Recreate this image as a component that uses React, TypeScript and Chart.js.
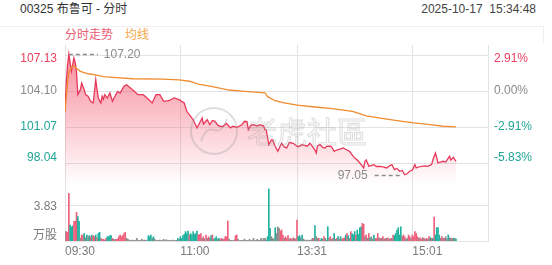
import React, { useEffect, useRef } from "react";
import { Chart, registerables } from "chart.js";

Chart.register(...registerables);

const FONT = '"Liberation Sans", Arial, "Noto Sans CJK SC", sans-serif';

const titleText = "00325 布鲁可 - 分时";
const timeStamp = "2025-10-17  15:34:48";
const legendNames = ["分时走势", "均线"];
const watermarkText = "老虎社區";

const prevClose = 104.1;
const priceTicks = [107.13, 104.1, 101.07, 98.04];
const pctLabels = ["2.91%", "0.00%", "-2.91%", "-5.83%"];
const volTicks = [3.83];
const volUnit = "万股";
const timeTicks = [0, 90, 181, 271, 330];
const timeLabels = ["09:30", "11:00", "13:31", "15:01", ""];

// minute index since 09:30 (lunch break collapsed), price
const priceMinutes = [
  0, 1, 2, 3, 5, 7, 8, 9, 10, 12,
  13, 15, 16, 18, 20, 22, 24, 25, 26, 28,
  29, 30, 31, 33, 35, 37, 39, 41, 43, 46,
  48, 51, 54, 57, 61, 64, 68, 71, 74, 77,
  81, 85, 89, 93, 95, 98, 100, 103, 105, 107,
  108, 111, 113, 115, 117, 119, 121, 123, 126, 129,
  131, 134, 138, 140, 142, 143, 145, 147, 150, 152,
  155, 156, 157, 159, 161, 162, 164, 166, 169, 171,
  173, 175, 177, 178, 181, 182, 185, 186, 189, 191,
  192, 195, 196, 197, 199, 201, 203, 204, 207, 208,
  210, 212, 215, 217, 220, 222, 225, 226, 228, 230,
  233, 234, 235, 237, 238, 241, 243, 246, 248, 251,
  253, 255, 256, 257, 259, 261, 263, 265, 267, 269,
  271, 273, 274, 276, 278, 281, 283, 286, 287, 289,
  290, 291, 293, 295, 297, 300, 301, 303, 305,
];
const prices = [
  102.37, 104.8, 106.3, 107.2, 105.76, 106.88, 106.46, 105.62, 103.79, 104.21,
  104.77, 104.2, 103.79, 103.65, 103.23, 103.09, 105.05, 104.21, 103.51, 103.09,
  103.65, 103.4, 103.79, 103.5, 103.93, 103.23, 103.65, 104.07, 103.93, 104.5,
  104.63, 104.35, 104.07, 103.79, 103.79, 103.51, 103.09, 103.79, 103.79, 103.23,
  103.28, 103.51, 103.37, 103.09, 102.39, 101.97, 101.68, 100.99, 101.4, 101.83,
  101.32, 101.68, 101.26, 101.62, 101.55, 101.24, 101.13, 101.1, 101.36, 100.99,
  101.13, 101.04, 101.26, 101.55, 101.52, 100.84, 101.2, 101.26, 101.15, 101.26,
  101.15, 100.84, 100.82, 99.58, 99.98, 99.98, 99.45, 99.02, 99.7, 99.39,
  99.3, 99.77, 99.72, 99.7, 99.45, 99.41, 99.58, 99.55, 99.45, 99.7,
  99.58, 99.13, 98.88, 99.47, 99.58, 99.34, 99.3, 99.43, 99.45, 99.39,
  99.02, 99.13, 99.22, 99.3, 99.13, 99.02, 98.57, 98.46, 98.29, 98.04,
  97.62, 98.18, 98.29, 97.76, 97.79, 97.9, 97.74, 97.76, 97.7, 97.62,
  97.79, 97.9, 97.7, 97.48, 97.58, 97.34, 97.41, 97.05, 97.15, 97.34,
  97.45, 97.9, 97.62, 97.7, 97.76, 97.79, 97.76, 97.9, 98.29, 98.88,
  98.46, 98.04, 98.12, 98.18, 98.12, 98.6, 98.29, 98.52, 98.18,
];

const avgMinutes = [
  0, 1, 2, 3, 5, 7, 9, 12, 18, 24, 30, 40, 53, 76, 89, 97, 104, 115,
  128, 140, 156, 158, 164, 170, 181, 195, 207, 220, 225, 235, 246, 259,
  272, 285, 295, 305,
];
const avgPrices = [
  102.37, 103.6, 104.8, 105.7, 106.1, 106.2, 106.0, 105.75, 105.55, 105.45,
  105.3, 105.22, 105.13, 105.1, 105.03, 104.92, 104.68, 104.46, 104.18, 104.07,
  103.95, 103.62, 103.28, 103.12, 102.9, 102.75, 102.64, 102.45, 102.36, 102.0,
  101.81, 101.6, 101.41, 101.26, 101.13, 101.07,
];

// volume per minute (万股)
const volumes = [
  1.0, 1.0, 0.9, 5.07, 1.7, 1.5, 1.6, 2.1, 2.1, 3.05,
  2.6, 2.1, 0.3, 0.64, 0.64, 0.8, 0.35, 0.64, 0.46, 0.57,
  0.46, 0.64, 0.57, 0.46, 0.64, 0.35, 0.8, 0.92, 0.28, 0.18,
  0.18, 0.1, 0.28, 0.46, 0.46, 0.57, 0.57, 0.28, 0.18, 0.18,
  0.18, 0.2, 0.46, 0.64, 0.46, 0.57, 0.8, 0.92, 0.28, 0.2,
  0.1, 0.05, 0.1, 0.05, 0.08, 0.05, 0.28, 0.05, 0.08, 0.05,
  0.2, 0.05, 0.1, 0.05, 0.1, 0.57, 0.46, 0.64, 0.28, 0.46,
  0.2, 0.05, 0.08, 0.05, 0.1, 0.05, 0.05, 0.18, 0.05, 0.14,
  0.05, 0.08, 0.05, 0.05, 0.1, 0.05, 0.05, 0.08, 0.28, 0.18,
  0.46, 0.28, 0.57, 0.7, 1.0, 0.8, 1.06, 0.64, 0.8, 0.64,
  1.0, 0.7, 0.8, 1.06, 0.64, 0.7, 0.8, 0.28, 0.46, 0.2,
  0.64, 0.28, 0.46, 0.28, 0.57, 0.64, 0.2, 0.28, 0.46, 0.2,
  0.28, 0.18, 0.28, 0.2, 0.2, 0.46, 0.46, 2.13, 0.2, 0.05,
  0.08, 0.05, 0.1, 0.57, 0.64, 0.18, 0.05, 0.05, 0.08, 0.05,
  0.2, 0.05, 0.08, 0.05, 0.18, 0.05, 0.05, 0.28, 0.05, 0.08,
  0.18, 0.05, 0.08, 0.28, 0.1, 0.28, 0.28, 0.1, 0.46, 5.53,
  1.35, 0.46, 0.28, 0.2, 1.42, 0.8, 1.5, 1.35, 1.06, 1.17,
  0.64, 0.28, 0.46, 0.28, 0.57, 0.2, 0.28, 0.18, 0.35, 0.28,
  0.2, 2.23, 0.46, 0.57, 0.35, 0.64, 0.2, 0.1, 0.05, 0.1,
  0.05, 0.08, 0.1, 0.28, 0.28, 1.63, 0.46, 0.28, 0.28, 0.1,
  0.28, 0.18, 0.46, 0.28, 0.1, 1.52, 0.28, 0.46, 0.18, 0.28,
  0.8, 0.2, 0.28, 0.46, 0.2, 0.46, 0.2, 0.28, 0.35, 0.64,
  0.8, 0.57, 0.28, 1.0, 0.8, 0.64, 1.0, 0.64, 1.17, 0.7,
  1.42, 1.52, 1.88, 1.77, 0.46, 0.64, 0.28, 0.8, 0.35, 0.46,
  0.2, 0.64, 0.28, 0.28, 0.8, 0.35, 0.28, 0.28, 0.46, 0.2,
  0.28, 0.28, 0.35, 0.2, 0.28, 0.28, 0.64, 0.57, 0.8, 1.17,
  1.42, 0.64, 1.52, 0.46, 0.64, 0.46, 0.2, 0.28, 0.64, 0.46,
  0.28, 0.64, 0.46, 1.0, 0.8, 0.46, 0.28, 0.35, 0.2, 0.35,
  0.28, 0.18, 0.28, 0.2, 0.46, 0.35, 0.28, 0.28, 2.55, 0.64,
  1.42, 1.42, 0.64, 0.28, 0.46, 0.28, 0.28, 0.46, 0.2, 0.64,
  0.35, 0.28, 0.28, 0.28, 0.28, 0.2,
];
// u = up minute, d = down minute, f = flat minute
const volDirs = [
  "duuuddduuu", "ddfuudfdfd", "uduududdfu", "ufudddduff", "uuuuuuuuff",
  "ffffffffff", "fffffdddfd", "ffffffffff", "ffffffffdf", "dddddddudd",
  "dddduuufuf", "ufufdufddf", "dfufuuuuff", "fffuufffff", "ffffffffff",
  "ffffffffdd", "dfffdfffuu", "ufuuufufuf", "uuddfdffff", "ffffudffuf",
  "dfuffdfufu", "dfududfuud", "udfudddudd", "dduufufudf", "fdfuufufuf",
  "ufufufuddd", "dddfuuffuu", "fuuuuufuuf", "ufufududud", "dddfufuffd",
  "ffudfd",
].join("");

const priceAxisMin = 91.47;
const priceAxisMax = 107.97;
const volAxisMax = 20.85;

const C_RED = "#e8405e";
const C_LINE = "#e8385a";
const C_TEAL = "#1fa596";
const C_GRAYTXT = "#8a8a8a";
const C_ORANGE = "#f08c30";
const C_GRID = "#e3e3e3";
const BAR_COLORS: Record<string, string> = { u: "#f0607d", d: "#1fb3a0", f: "#8c8c8c" };

function colorForPrice(v: number) {
  if (Math.abs(v - prevClose) < 0.005) return C_GRAYTXT;
  return v > prevClose ? C_RED : C_TEAL;
}

const overlayPlugin = {
  id: "overlay",
  beforeDatasetsDraw(chart: any) {
    const { ctx, chartArea: a, scales } = chart;
    const xs = scales.x, ys = scales.y, yv = scales.yv;
    ctx.save();
    ctx.strokeStyle = C_GRID;
    ctx.lineWidth = 1;
    ctx.beginPath();
    for (const v of priceTicks) {
      const py = Math.round(ys.getPixelForValue(v)) + 0.5;
      ctx.moveTo(a.left, py);
      ctx.lineTo(a.right + 1, py);
    }
    for (const v of volTicks) {
      const py = Math.round(yv.getPixelForValue(v)) + 0.5;
      ctx.moveTo(a.left, py);
      ctx.lineTo(a.right + 1, py);
    }
    const by = Math.round(yv.getPixelForValue(0)) + 0.5;
    ctx.moveTo(a.left, by);
    ctx.lineTo(a.right + 1, by);
    for (const t of timeTicks) {
      const px = Math.round(xs.getPixelForValue(t)) + 0.5;
      ctx.moveTo(px, a.top);
      ctx.lineTo(px, a.bottom + 1);
    }
    ctx.stroke();
    ctx.restore();
  },
  afterDatasetsDraw(chart: any) {
    const { ctx, chartArea: a, scales } = chart;
    const xs = scales.x, ys = scales.y, yv = scales.yv;
    ctx.save();

    // watermark
    ctx.strokeStyle = "rgba(150,150,150,0.3)";
    ctx.lineWidth = 2;
    ctx.beginPath();
    ctx.arc(a.left + 149, a.top + 86, 23, 0, Math.PI * 2);
    ctx.stroke();
    ctx.beginPath();
    ctx.moveTo(a.left + 136, a.top + 96);
    ctx.bezierCurveTo(a.left + 146, a.top + 70, a.left + 152, a.top + 100, a.left + 162, a.top + 74);
    ctx.stroke();
    ctx.font = `30px "Noto Sans CJK TC", sans-serif`;
    ctx.textAlign = "left";
    ctx.textBaseline = "middle";
    ctx.lineWidth = 1.1;
    ctx.strokeText(watermarkText, a.left + 182, a.top + 87);

    ctx.font = `12px ${FONT}`;
    // left/right price labels
    ctx.textBaseline = "middle";
    priceTicks.forEach((v, i) => {
      const py = ys.getPixelForValue(v) + (i === 0 ? 4 : i === priceTicks.length - 1 ? -5 : 0);
      ctx.fillStyle = colorForPrice(v);
      ctx.textAlign = "right";
      ctx.fillText(v.toFixed(2), a.left - 8, py);
      ctx.textAlign = "left";
      ctx.fillText(pctLabels[i], a.right + 6, py);
    });
    // volume labels
    ctx.fillStyle = "#7a7a7a";
    ctx.textAlign = "right";
    volTicks.forEach((v) => {
      ctx.fillText(v.toFixed(2), a.left - 8, yv.getPixelForValue(v) + 2);
    });
    ctx.fillText(volUnit, a.left - 8, yv.getPixelForValue(0) - 5);
    // time labels
    ctx.textAlign = "left";
    timeTicks.forEach((t, i) => {
      if (timeLabels[i]) ctx.fillText(timeLabels[i], xs.getPixelForValue(t), a.bottom + 11);
    });

    // high / low marks
    let hi = 0, lo = 0;
    prices.forEach((p, i) => {
      if (p > prices[hi]) hi = i;
      if (p < prices[lo]) lo = i;
    });
    ctx.strokeStyle = "#8c8c8c";
    ctx.lineWidth = 1.5;
    ctx.setLineDash([4, 3]);
    const hx = xs.getPixelForValue(priceMinutes[hi]);
    const hy = Math.round(ys.getPixelForValue(prices[hi])) + 0.5;
    ctx.beginPath();
    ctx.moveTo(hx, hy);
    ctx.lineTo(hx + 29, hy);
    ctx.stroke();
    const lx = xs.getPixelForValue(priceMinutes[lo]);
    const ly = Math.round(ys.getPixelForValue(prices[lo])) + 0.5;
    ctx.beginPath();
    ctx.moveTo(lx - 30, ly);
    ctx.lineTo(lx - 3, ly);
    ctx.stroke();
    ctx.setLineDash([]);
    ctx.fillStyle = C_GRAYTXT;
    ctx.textAlign = "left";
    ctx.fillText(prices[hi].toFixed(2), hx + 35, hy);
    ctx.textAlign = "right";
    ctx.fillText(prices[lo].toFixed(2), lx - 37, ly);
    ctx.restore();
  },
};

export default function App() {
  const ref = useRef<HTMLCanvasElement>(null);

  useEffect(() => {
    const canvas = ref.current;
    if (!canvas) return;
    const chart = new Chart(canvas, {
      type: "line",
      data: {
        datasets: [
          {
            type: "line",
            label: legendNames[1],
            data: avgMinutes.map((m, i) => ({ x: m, y: avgPrices[i] })),
            yAxisID: "y",
            borderColor: C_ORANGE,
            borderWidth: 1.3,
            pointRadius: 0,
            fill: false,
            tension: 0,
            order: 0,
          },
          {
            type: "line",
            label: legendNames[0],
            data: priceMinutes.map((m, i) => ({ x: m, y: prices[i] })),
            yAxisID: "y",
            borderColor: C_LINE,
            borderWidth: 1.3,
            pointRadius: 0,
            tension: 0,
            fill: "start",
            backgroundColor: (c: any) => {
              const ch = c.chart;
              const a = ch.chartArea;
              if (!a) return "rgba(0,0,0,0)";
              const g = ch.ctx.createLinearGradient(0, a.top + 8, 0, a.top + 140);
              g.addColorStop(0, "rgba(242,72,96,0.62)");
              g.addColorStop(1, "rgba(242,72,96,0)");
              return g;
            },
            order: 1,
          },
          {
            type: "bar",
            label: "vol",
            data: volumes.map((v, i) => ({ x: i, y: v })),
            yAxisID: "yv",
            backgroundColor: volumes.map((_, i) => BAR_COLORS[volDirs[i]] || BAR_COLORS.f),
            barThickness: 1,
            grouped: false,
            order: 2,
          } as any,
        ],
      },
      options: {
        responsive: false,
        devicePixelRatio: 1,
        animation: false,
        events: [],
        layout: { padding: { left: 65, right: 64, top: 45, bottom: 24 } },
        plugins: { legend: { display: false }, tooltip: { enabled: false } },
        scales: {
          x: { type: "linear", display: false, offset: false, grid: { offset: false }, min: 0, max: 330 },
          y: { type: "linear", display: false, min: priceAxisMin, max: priceAxisMax },
          yv: { type: "linear", display: false, min: 0, max: volAxisMax },
        },
      } as any,
      plugins: [overlayPlugin],
    });
    return () => chart.destroy();
  }, []);

  return (
    <div
      style={{
        position: "fixed",
        left: 0,
        top: 0,
        width: 552,
        height: 265,
        background: "#fff",
        fontFamily: FONT,
        overflow: "hidden",
      }}
    >
      <div style={{ position: "absolute", left: 20, top: 2, fontSize: 12, lineHeight: "14px", color: "#333", whiteSpace: "pre" }}>
        {titleText}
      </div>
      <div style={{ position: "absolute", right: 16, top: 2, fontSize: 12, lineHeight: "14px", color: "#444", whiteSpace: "pre" }}>
        {timeStamp}
      </div>
      <div
        style={{
          position: "absolute",
          left: 0,
          top: 26,
          width: 544,
          height: 18,
          borderTop: "1px solid #f0f0f0",
          borderRight: "1px solid #f0f0f0",
          boxSizing: "border-box",
        }}
      />
      <div style={{ position: "absolute", left: 65, top: 28, fontSize: 12, lineHeight: "14px", color: "#ea5a72", whiteSpace: "pre" }}>
        {legendNames[0]}
      </div>
      <div style={{ position: "absolute", left: 125, top: 28, fontSize: 12, lineHeight: "14px", color: "#f2a646", whiteSpace: "pre" }}>
        {legendNames[1]}
      </div>
      <canvas ref={ref} width={552} height={265} style={{ position: "absolute", left: 0, top: 0 }} />
    </div>
  );
}
